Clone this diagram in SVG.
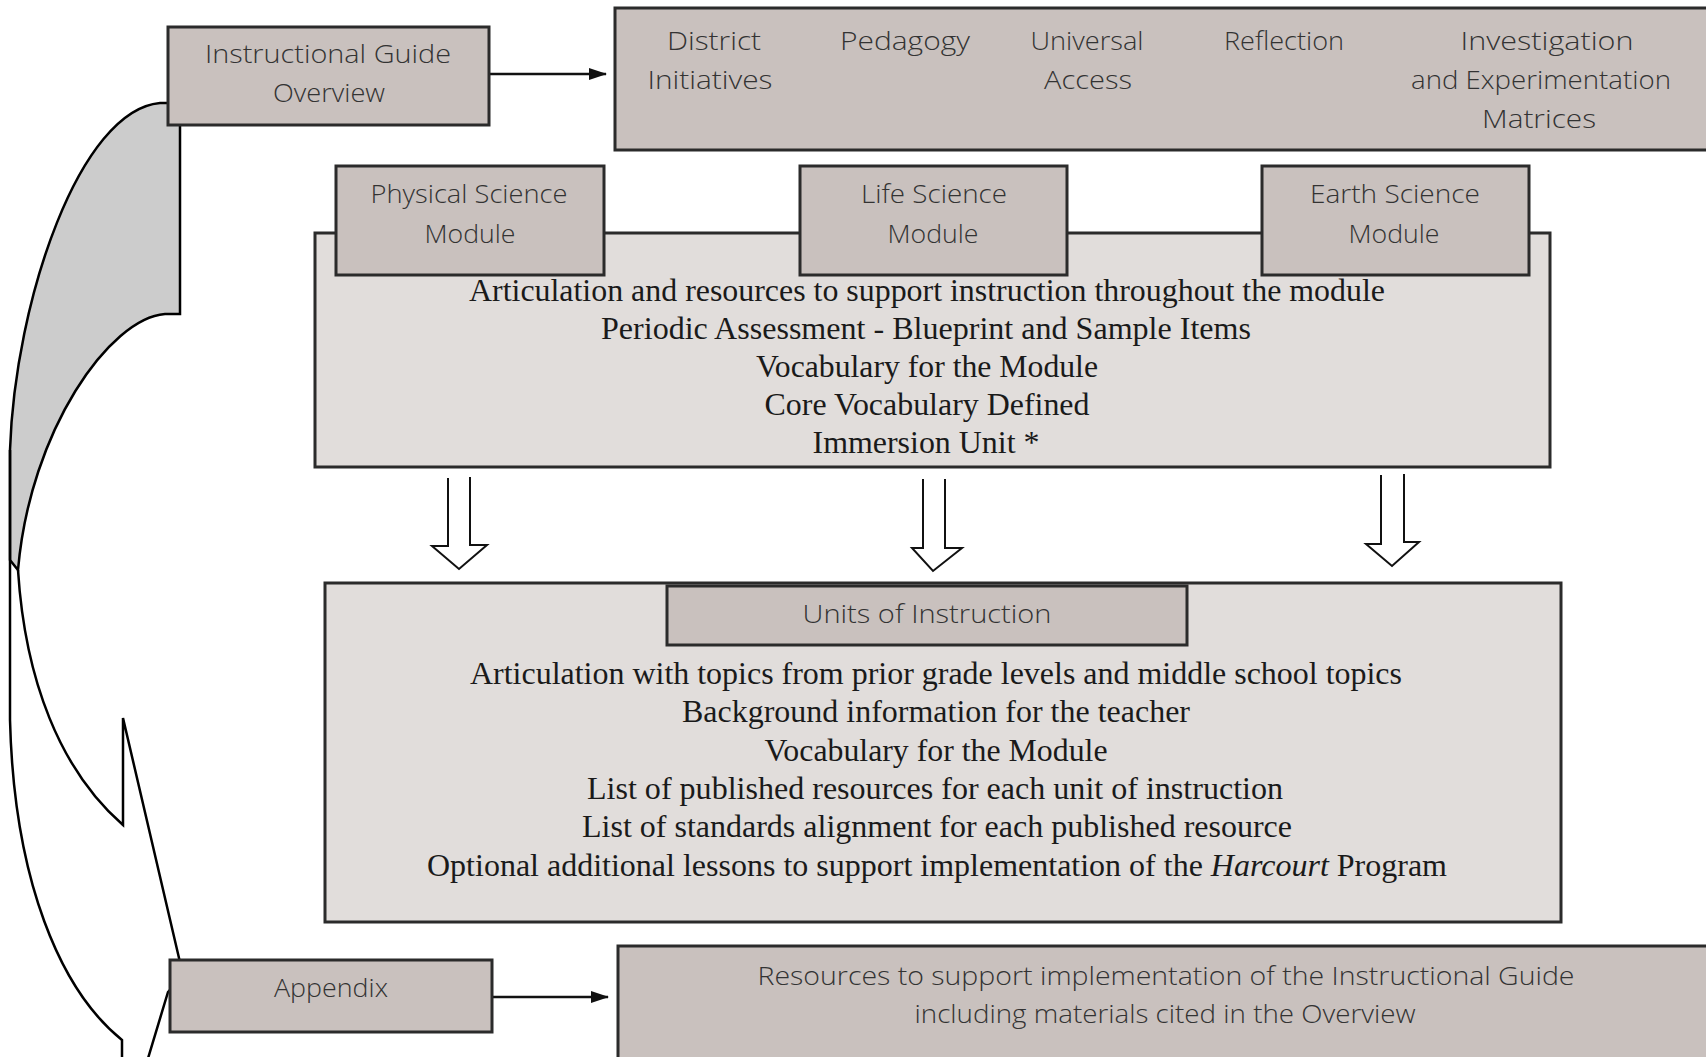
<svg xmlns="http://www.w3.org/2000/svg" width="1706" height="1057" viewBox="0 0 1706 1057">
<defs>
<style>
.hdr{fill:#c9c1be;stroke:#2b2b2b;stroke-width:3}
.big{fill:#e1dddb;stroke:#2b2b2b;stroke-width:3}
.hand{font-family:"Open Sans","Lato","Liberation Sans",sans-serif;font-weight:300;font-size:26px;fill:#333;text-anchor:middle}
.ser{font-family:"Liberation Serif","Times New Roman",serif;font-size:31px;fill:#1a1a1a;text-anchor:middle}
.ln{fill:none;stroke:#111;stroke-width:2.5}
.hollow{fill:#fff;stroke:#111;stroke-width:2;stroke-linejoin:miter}
.curve{stroke:#000;stroke-width:2.5;stroke-linejoin:miter}
</style>
<marker id="ah" viewBox="0 0 18 12" markerWidth="18" markerHeight="12" refX="17" refY="6" orient="auto" markerUnits="userSpaceOnUse">
<path d="M0,0 L18,6 L0,12 Z" fill="#111"/>
</marker>
</defs>
<rect width="1706" height="1057" fill="#fff"/>

<g id="connectors">
<path id="cycle-back" class="curve" fill="#cccccc" d="M180,103 L180,314 L165,314 C110,318 30,430 18,570 L10,560 L10,450 C15,300 80,110 160,103 Z"/>
<path id="cycle-front-outer" class="curve" fill="none" d="M10,450 L10,720 C14,880 60,990 122,1040 L122,1062"/>
<path id="cycle-front-inner" class="curve" fill="none" d="M18,570 C25,680 60,770 123,825 L123,718 L179,958 L183,975 L168,992 L143,1075"/>
<line class="ln" x1="490" y1="74" x2="606" y2="74" marker-end="url(#ah)"/>
<line class="ln" x1="492" y1="997" x2="608" y2="997" marker-end="url(#ah)"/>
<path class="hollow" d="M448,478 L448,546 L432,546 L459,569 L487,545 L470,545 L470,477"/>
<path class="hollow" d="M923,479 L923,548 L912,548 L933,571 L962,548 L945,548 L945,479"/>
<path class="hollow" d="M1381,475 L1381,544 L1366,544 L1392,566 L1419,542 L1404,542 L1404,474"/>
</g>

<g id="overview">
<rect class="hdr" x="168" y="27" width="321" height="98"/>
<text class="hand" x="328" y="63" textLength="246" lengthAdjust="spacingAndGlyphs">Instructional Guide</text>
<text class="hand" x="329" y="102" textLength="112" lengthAdjust="spacingAndGlyphs">Overview</text>
</g>

<g id="overview-topics">
<rect class="hdr" x="615" y="8" width="1100" height="142"/>
<text class="hand" x="714" y="50" textLength="94" lengthAdjust="spacingAndGlyphs">District</text>
<text class="hand" x="710" y="89" textLength="125" lengthAdjust="spacingAndGlyphs">Initiatives</text>
<text class="hand" x="905" y="50" textLength="130" lengthAdjust="spacingAndGlyphs">Pedagogy</text>
<text class="hand" x="1087" y="50" textLength="113" lengthAdjust="spacingAndGlyphs">Universal</text>
<text class="hand" x="1088" y="89" textLength="88" lengthAdjust="spacingAndGlyphs">Access</text>
<text class="hand" x="1284" y="50" textLength="120" lengthAdjust="spacingAndGlyphs">Reflection</text>
<text class="hand" x="1547" y="50" textLength="173" lengthAdjust="spacingAndGlyphs">Investigation</text>
<text class="hand" x="1541" y="89" textLength="260" lengthAdjust="spacingAndGlyphs">and Experimentation</text>
<text class="hand" x="1539" y="128" textLength="114" lengthAdjust="spacingAndGlyphs">Matrices</text>
</g>

<g id="module-content">
<rect class="big" x="315" y="233" width="1235" height="234"/>
<text class="ser" x="927" y="301" textLength="916" lengthAdjust="spacingAndGlyphs">Articulation and resources to support instruction throughout the module</text>
<text class="ser" x="926" y="339" textLength="650" lengthAdjust="spacingAndGlyphs">Periodic Assessment - Blueprint and Sample Items</text>
<text class="ser" x="927" y="377" textLength="342" lengthAdjust="spacingAndGlyphs">Vocabulary for the Module</text>
<text class="ser" x="927" y="415" textLength="325" lengthAdjust="spacingAndGlyphs">Core Vocabulary Defined</text>
<text class="ser" x="926" y="453" textLength="227" lengthAdjust="spacingAndGlyphs">Immersion Unit *</text>
</g>

<g id="physical-science">
<rect class="hdr" x="336" y="166" width="268" height="109"/>
<text class="hand" x="469" y="203" textLength="197" lengthAdjust="spacingAndGlyphs">Physical Science</text>
<text class="hand" x="470" y="243" textLength="91" lengthAdjust="spacingAndGlyphs">Module</text>
</g>

<g id="life-science">
<rect class="hdr" x="800" y="166" width="267" height="109"/>
<text class="hand" x="934" y="203" textLength="146" lengthAdjust="spacingAndGlyphs">Life Science</text>
<text class="hand" x="933" y="243" textLength="91" lengthAdjust="spacingAndGlyphs">Module</text>
</g>

<g id="earth-science">
<rect class="hdr" x="1262" y="166" width="267" height="109"/>
<text class="hand" x="1395" y="203" textLength="170" lengthAdjust="spacingAndGlyphs">Earth Science</text>
<text class="hand" x="1394" y="243" textLength="91" lengthAdjust="spacingAndGlyphs">Module</text>
</g>

<g id="units-content">
<rect class="big" x="325" y="583" width="1236" height="339"/>
<text class="ser" x="936" y="684" textLength="932" lengthAdjust="spacingAndGlyphs">Articulation with topics from prior grade levels and middle school topics</text>
<text class="ser" x="936" y="722" textLength="508" lengthAdjust="spacingAndGlyphs">Background information for the teacher</text>
<text class="ser" x="936" y="761" textLength="343" lengthAdjust="spacingAndGlyphs">Vocabulary for the Module</text>
<text class="ser" x="935" y="799" textLength="696" lengthAdjust="spacingAndGlyphs">List of published resources for each unit of instruction</text>
<text class="ser" x="937" y="837" textLength="710" lengthAdjust="spacingAndGlyphs">List of standards alignment for each published resource</text>
<text class="ser" x="937" y="876" textLength="1020" lengthAdjust="spacingAndGlyphs">Optional additional lessons to support implementation of the <tspan font-style="italic">Harcourt</tspan> Program</text>
</g>

<g id="units-of-instruction">
<rect class="hdr" x="667" y="586" width="520" height="59"/>
<text class="hand" x="927" y="623" textLength="249" lengthAdjust="spacingAndGlyphs">Units of Instruction</text>
</g>

<g id="appendix">
<rect class="hdr" x="170" y="960" width="322" height="72"/>
<text class="hand" x="331" y="997" textLength="114" lengthAdjust="spacingAndGlyphs">Appendix</text>
</g>

<g id="appendix-resources">
<rect class="hdr" x="618" y="946" width="1100" height="120"/>
<text class="hand" x="1166" y="985" textLength="817" lengthAdjust="spacingAndGlyphs">Resources to support implementation of the Instructional Guide</text>
<text class="hand" x="1165" y="1023" textLength="501" lengthAdjust="spacingAndGlyphs">including materials cited in the Overview</text>
</g>
</svg>
